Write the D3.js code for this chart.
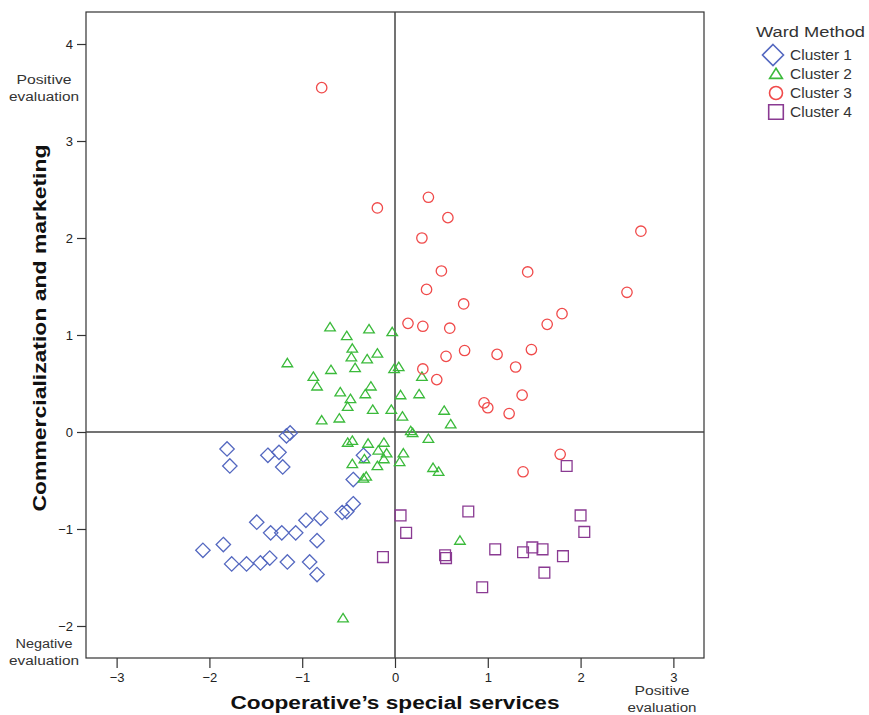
<!DOCTYPE html>
<html><head><meta charset="utf-8">
<script src="https://cdn.jsdelivr.net/npm/d3@7"></script>
<style>body{margin:0;background:#fff}svg{display:block}text{font-family:"Liberation Sans",Arial,sans-serif}</style>
</head><body>
<svg id="c" width="869" height="715"></svg>
<script>
const xTicks = [-3,-2,-1,0,1,2,3];
const yTicks = [-2,-1,0,1,2,3,4];
const seriesNames = ["Cluster 1","Cluster 2","Cluster 3","Cluster 4"];
const cluster1 = [[-1.81,-0.175],[-1.78,-0.35],[-1.37,-0.24],[-1.25,-0.21],[-1.21,-0.36],[-1.17,-0.04],[-1.13,-0.01],
 [-0.34,-0.24],[-0.45,-0.49],[-0.45,-0.74],[-0.52,-0.82],[-0.57,-0.83],[-0.80,-0.89],[-0.96,-0.91],[-1.49,-0.93],
 [-1.34,-1.04],[-1.22,-1.04],[-1.07,-1.04],[-0.84,-1.12],[-1.85,-1.16],[-2.07,-1.22],[-1.76,-1.36],[-1.60,-1.36],
 [-1.45,-1.35],[-1.35,-1.30],[-1.16,-1.34],[-0.92,-1.34],[-0.84,-1.47]];
const cluster2 = [[-0.70,1.08],[-0.28,1.06],[-0.03,1.03],[-0.52,0.99],[-0.46,0.86],[-0.19,0.81],[-0.47,0.77],[-0.30,0.75],
 [-1.16,0.71],[-0.69,0.64],[-0.43,0.66],[0.04,0.67],[-0.01,0.65],[-0.88,0.57],[-0.84,0.47],[0.29,0.57],[-0.26,0.47],
 [-0.59,0.41],[-0.32,0.39],[0.06,0.38],[0.26,0.39],[-0.48,0.34],[-0.51,0.26],[-0.24,0.23],[-0.04,0.23],[0.53,0.22],
 [0.08,0.16],[-0.79,0.12],[-0.60,0.14],[0.60,0.08],[0.17,0.01],[0.19,-0.01],[0.36,-0.07],[-0.51,-0.11],[-0.46,-0.09],
 [-0.29,-0.12],[-0.12,-0.11],[-0.18,-0.19],[-0.09,-0.22],[0.09,-0.22],[-0.12,-0.28],[-0.33,-0.28],[-0.46,-0.33],
 [-0.19,-0.35],[0.05,-0.31],[0.41,-0.37],[0.47,-0.41],[-0.34,-0.48],[-0.31,-0.46],[-0.56,-1.92],[0.70,-1.12]];
const cluster3 = [[-0.79,3.55],[-0.19,2.31],[0.36,2.42],[0.57,2.21],[0.29,2.00],[2.65,2.07],[0.50,1.66],[1.43,1.65],
 [0.34,1.47],[2.50,1.44],[0.74,1.32],[1.80,1.22],[0.14,1.12],[0.30,1.09],[0.59,1.07],[1.64,1.11],[0.55,0.78],[0.75,0.84],
 [1.10,0.80],[1.47,0.85],[1.30,0.67],[0.30,0.65],[0.45,0.54],[1.37,0.38],[0.96,0.30],[1.00,0.25],[1.23,0.19],
 [1.78,-0.23],[1.38,-0.41]];
const cluster4 = [[0.06,-0.86],[0.12,-1.04],[-0.13,-1.29],[0.79,-0.82],[0.54,-1.27],[0.55,-1.30],[1.08,-1.21],[1.38,-1.24],
 [1.48,-1.19],[1.59,-1.21],[1.81,-1.28],[2.00,-0.86],[2.04,-1.03],[1.61,-1.45],[0.94,-1.60],[1.85,-0.35]];

const colors = ["#5468c0","#3bba3b","#f04a4a","#8a3a92"];
const shapes = ["diamond","triangle","circle","square"];
const data = [cluster1,cluster2,cluster3,cluster4];

function shapePath(type, s){
  if(type==="diamond") return `M0,${-s}L${s},0L0,${s}L${-s},0Z`;
  if(type==="triangle") return `M0,${-s}L${s*1.1},${s*0.75}L${-s*1.1},${s*0.75}Z`;
  if(type==="square") return `M${-s},${-s}H${s}V${s}H${-s}Z`;
  return `M${s},0A${s},${s} 0 1 1 ${-s},0A${s},${s} 0 1 1 ${s},0Z`;
}
const sizes = {diamond:7.2, triangle:4.8, circle:5.2, square:5.4};
const legSizes = {diamond:10.5, triangle:5.8, circle:6.5, square:7.3};

const svg = d3.select("#c");
const L=86,R=704,T=12,B=658;
const x = d3.scaleLinear().domain([-3.33,3.33]).range([L,R]);
const y = d3.scaleLinear().domain([-2.33,4.33]).range([B,T]);

svg.append("rect").attr("x",L).attr("y",T).attr("width",R-L).attr("height",B-T)
  .attr("fill","none").attr("stroke","#333").attr("stroke-width",1.2);

svg.append("line").attr("x1",x(0)).attr("x2",x(0)).attr("y1",T).attr("y2",B).attr("stroke","#444").attr("stroke-width",1.5);
svg.append("line").attr("x1",L).attr("x2",R).attr("y1",y(0)).attr("y2",y(0)).attr("stroke","#444").attr("stroke-width",1.5);

const fmt = d => d<0 ? "\u2212"+Math.abs(d) : String(d);
const ax = svg.append("g").attr("transform",`translate(0,${B})`)
  .call(d3.axisBottom(x).tickValues(xTicks).tickFormat(fmt).tickSize(10).tickSizeOuter(0));
const ay = svg.append("g").attr("transform",`translate(${L},0)`)
  .call(d3.axisLeft(y).tickValues(yTicks).tickFormat(fmt).tickSize(9).tickSizeOuter(0));
[ax,ay].forEach(g=>{
  g.select(".domain").remove();
  g.selectAll(".tick line").attr("stroke","#333").attr("stroke-width",1.2);
  g.selectAll(".tick text").attr("fill","#222").style("font-size","13px");
});
ax.selectAll(".tick text").attr("dy","0.85em");
ay.selectAll(".tick text").attr("x",-13);

data.forEach((pts,i)=>{
  svg.append("g").selectAll("path").data(pts).join("path")
    .attr("transform",d=>`translate(${x(d[0])},${y(d[1])})`)
    .attr("d",shapePath(shapes[i],sizes[shapes[i]]))
    .attr("fill","none").attr("stroke",colors[i]).attr("stroke-width",1.3);
});

svg.append("text").attr("x",x(0)).attr("y",709).attr("text-anchor","middle")
  .attr("font-weight","bold").style("font-size","18px").attr("fill","#111")
  .attr("textLength",329).attr("lengthAdjust","spacingAndGlyphs")
  .text("Cooperative\u2019s special services");
svg.append("text").attr("transform","translate(46,328) rotate(-90)").attr("text-anchor","middle")
  .attr("font-weight","bold").style("font-size","18px").attr("fill","#111")
  .attr("textLength",367).attr("lengthAdjust","spacingAndGlyphs")
  .text("Commercialization and marketing");

function twoLine(cx, y1, a, wa, b, wb){
  svg.append("text").attr("x",cx).attr("y",y1).attr("text-anchor","middle").style("font-size","12.5px").attr("fill","#333")
    .attr("textLength",wa).attr("lengthAdjust","spacingAndGlyphs").text(a);
  svg.append("text").attr("x",cx).attr("y",y1+17).attr("text-anchor","middle").style("font-size","12.5px").attr("fill","#333")
    .attr("textLength",wb).attr("lengthAdjust","spacingAndGlyphs").text(b);
}
twoLine(44,84,"Positive",55,"evaluation",70);
twoLine(44,648,"Negative",57,"evaluation",70);
twoLine(662,695,"Positive",55,"evaluation",69);

svg.append("text").attr("x",756).attr("y",37).style("font-size","15.5px").attr("fill","#333")
  .attr("textLength",109).attr("lengthAdjust","spacingAndGlyphs").text("Ward Method");
seriesNames.forEach((n,i)=>{
  const yy = [55,74,93,112][i];
  svg.append("path").attr("transform",`translate(${i===0?773:776},${yy})`)
    .attr("d",shapePath(shapes[i],legSizes[shapes[i]]))
    .attr("fill","none").attr("stroke",colors[i]).attr("stroke-width",1.6);
  svg.append("text").attr("x",790).attr("y",yy+5).style("font-size","14px").attr("fill","#333")
    .attr("textLength",62).attr("lengthAdjust","spacingAndGlyphs").text(n);
});
</script>
</body></html>
